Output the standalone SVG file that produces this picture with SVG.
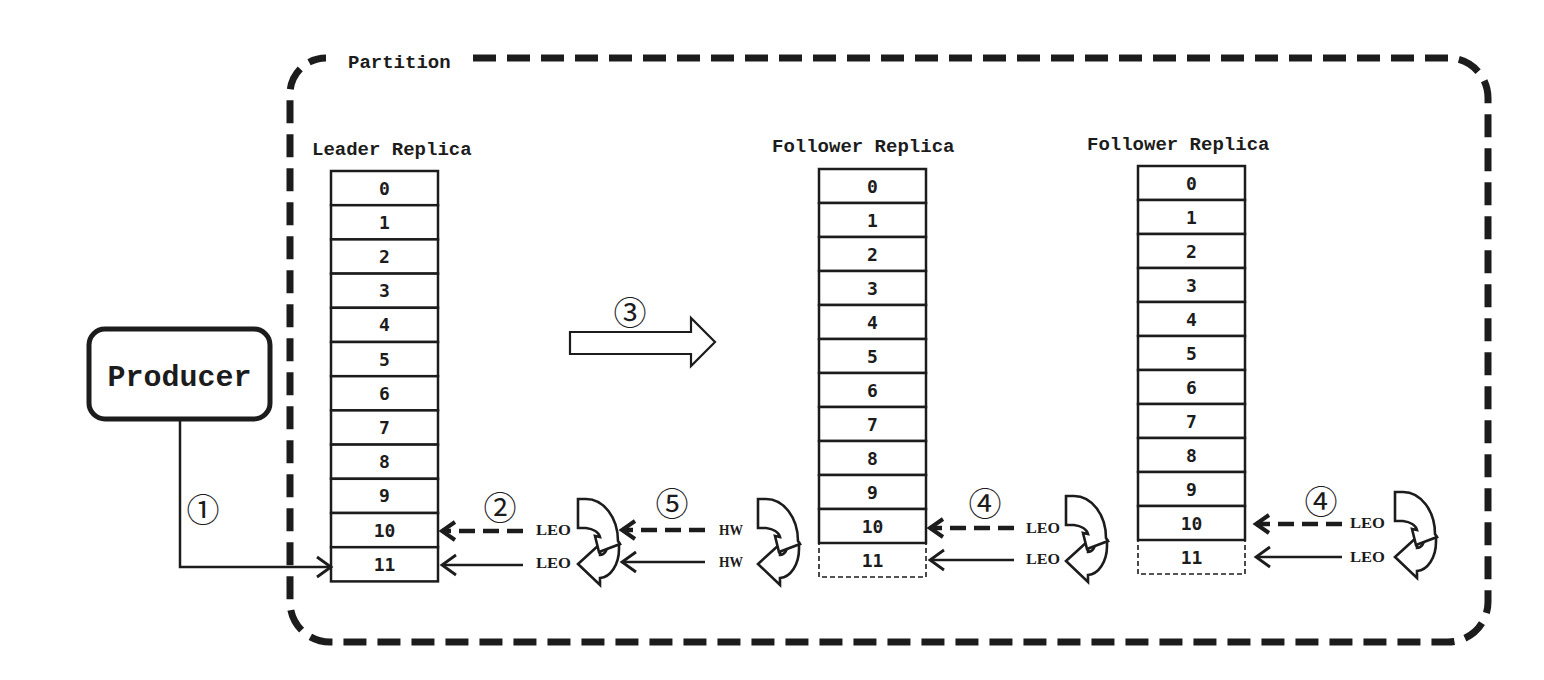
<svg xmlns="http://www.w3.org/2000/svg" xmlns:xlink="http://www.w3.org/1999/xlink" width="1544" height="680" viewBox="0 0 1544 680">
<style>
.cell{fill:#fff;stroke:#1c1c1c;stroke-width:2.5}
.cellD{fill:#fff;stroke:#1c1c1c;stroke-width:1.6;stroke-dasharray:5 3}
.num{font-family:"DejaVu Sans Mono",monospace;font-weight:bold;font-size:18px;text-anchor:middle;fill:#1c1c1c}
.lbl{font-family:"Liberation Mono","Courier New",monospace;font-weight:bold;font-size:19px;fill:#1c1c1c}
.tag{font-family:"Liberation Serif","Times New Roman",serif;font-weight:bold;font-size:15px;fill:#1c1c1c}
.circ{font-family:"Noto Sans CJK SC","DejaVu Sans",sans-serif;font-size:33px;text-anchor:middle;fill:#1c1c1c}
.solid{fill:none;stroke:#1c1c1c;stroke-width:2.5}
.dash{fill:none;stroke:#1c1c1c;stroke-width:4.5;stroke-dasharray:16 8}
.icon path{fill:#fff;stroke:#1c1c1c;stroke-width:2.6;stroke-linejoin:miter}
</style>
<defs>
<marker id="arrS" markerUnits="userSpaceOnUse" viewBox="-18 -12 22 24" markerWidth="22" markerHeight="24" refX="0" refY="0" orient="auto">
<path d="M-14,-10 L0,0 L-14,10" fill="none" stroke="#1c1c1c" stroke-width="2.8"/>
</marker>
<marker id="arrD" markerUnits="userSpaceOnUse" viewBox="-18 -12 22 24" markerWidth="22" markerHeight="24" refX="0" refY="0" orient="auto">
<path d="M-13,-9 L0,0 L-13,9" fill="none" stroke="#1c1c1c" stroke-width="4"/>
</marker>
<g id="cyc" class="icon">
<path d="M22,56 L22,45 L0,65 L22,86 L22,79 A20,29 0 0 0 41,50 L41,44 L30,44 A8,12 0 0 1 22,56 Z"/>
<path d="M0,0 L8,0 A32,42 0 0 1 40,42 L42,45 L21,53 L17,37 L22,38 A18,11 0 0 0 8,29 L0,29 Z"/>
</g>
</defs>
<rect width="1544" height="680" fill="#fff"/>

<g id="partition">
<path d="M473,58 H1448 A40,40 0 0 1 1488,98 V602 A40,40 0 0 1 1448,642 H330 A40,40 0 0 1 290,602 V94 A36,36 0 0 1 326,58" fill="none" stroke="#1c1c1c" stroke-width="7" stroke-dasharray="23 11"/>
<text class="lbl" x="348" y="68">Partition</text>
</g>

<g id="producer">
<rect x="89" y="329" width="181" height="90" rx="16" fill="#fff" stroke="#1c1c1c" stroke-width="5"/>
<text class="lbl" x="179.5" y="386" style="font-size:30px" text-anchor="middle">Producer</text>
</g>

<g id="leader-replica">
<text class="lbl" x="312" y="155">Leader Replica</text>
<g transform="translate(331,171)">
<rect class="cell" x="0" y="0" width="107" height="34.2"/><text class="num" x="53.5" y="23.6">0</text>
<rect class="cell" x="0" y="34.2" width="107" height="34.2"/><text class="num" x="53.5" y="57.8">1</text>
<rect class="cell" x="0" y="68.4" width="107" height="34.2"/><text class="num" x="53.5" y="92">2</text>
<rect class="cell" x="0" y="102.6" width="107" height="34.2"/><text class="num" x="53.5" y="126.2">3</text>
<rect class="cell" x="0" y="136.8" width="107" height="34.2"/><text class="num" x="53.5" y="160.4">4</text>
<rect class="cell" x="0" y="171" width="107" height="34.2"/><text class="num" x="53.5" y="194.6">5</text>
<rect class="cell" x="0" y="205.2" width="107" height="34.2"/><text class="num" x="53.5" y="228.8">6</text>
<rect class="cell" x="0" y="239.4" width="107" height="34.2"/><text class="num" x="53.5" y="263">7</text>
<rect class="cell" x="0" y="273.6" width="107" height="34.2"/><text class="num" x="53.5" y="297.2">8</text>
<rect class="cell" x="0" y="307.8" width="107" height="34.2"/><text class="num" x="53.5" y="331.4">9</text>
<rect class="cell" x="0" y="342" width="107" height="34.2"/><text class="num" x="53.5" y="365.6">10</text>
<rect class="cell" x="0" y="376.2" width="107" height="34.2"/><text class="num" x="53.5" y="399.8">11</text>
</g>
</g>

<g id="follower-replica-1">
<text class="lbl" x="772" y="152">Follower Replica</text>
<g transform="translate(819,169)">
<rect class="cell" x="0" y="0" width="107" height="34"/><text class="num" x="53.5" y="23.5">0</text>
<rect class="cell" x="0" y="34" width="107" height="34"/><text class="num" x="53.5" y="57.5">1</text>
<rect class="cell" x="0" y="68" width="107" height="34"/><text class="num" x="53.5" y="91.5">2</text>
<rect class="cell" x="0" y="102" width="107" height="34"/><text class="num" x="53.5" y="125.5">3</text>
<rect class="cell" x="0" y="136" width="107" height="34"/><text class="num" x="53.5" y="159.5">4</text>
<rect class="cell" x="0" y="170" width="107" height="34"/><text class="num" x="53.5" y="193.5">5</text>
<rect class="cell" x="0" y="204" width="107" height="34"/><text class="num" x="53.5" y="227.5">6</text>
<rect class="cell" x="0" y="238" width="107" height="34"/><text class="num" x="53.5" y="261.5">7</text>
<rect class="cell" x="0" y="272" width="107" height="34"/><text class="num" x="53.5" y="295.5">8</text>
<rect class="cell" x="0" y="306" width="107" height="34"/><text class="num" x="53.5" y="329.5">9</text>
<rect class="cellD" x="0" y="374" width="107" height="34"/><text class="num" x="53.5" y="397.5">11</text>
<rect class="cell" x="0" y="340" width="107" height="34"/><text class="num" x="53.5" y="363.5">10</text>
</g>
</g>

<g id="follower-replica-2">
<text class="lbl" x="1087" y="150">Follower Replica</text>
<g transform="translate(1138,166)">
<rect class="cell" x="0" y="0" width="107" height="34"/><text class="num" x="53.5" y="23.5">0</text>
<rect class="cell" x="0" y="34" width="107" height="34"/><text class="num" x="53.5" y="57.5">1</text>
<rect class="cell" x="0" y="68" width="107" height="34"/><text class="num" x="53.5" y="91.5">2</text>
<rect class="cell" x="0" y="102" width="107" height="34"/><text class="num" x="53.5" y="125.5">3</text>
<rect class="cell" x="0" y="136" width="107" height="34"/><text class="num" x="53.5" y="159.5">4</text>
<rect class="cell" x="0" y="170" width="107" height="34"/><text class="num" x="53.5" y="193.5">5</text>
<rect class="cell" x="0" y="204" width="107" height="34"/><text class="num" x="53.5" y="227.5">6</text>
<rect class="cell" x="0" y="238" width="107" height="34"/><text class="num" x="53.5" y="261.5">7</text>
<rect class="cell" x="0" y="272" width="107" height="34"/><text class="num" x="53.5" y="295.5">8</text>
<rect class="cell" x="0" y="306" width="107" height="34"/><text class="num" x="53.5" y="329.5">9</text>
<rect class="cellD" x="0" y="374" width="107" height="34"/><text class="num" x="53.5" y="397.5">11</text>
<rect class="cell" x="0" y="340" width="107" height="34"/><text class="num" x="53.5" y="363.5">10</text>
</g>
</g>

<g id="cycle-icons">
<use xlink:href="#cyc" href="#cyc" x="578" y="499"/>
<use xlink:href="#cyc" href="#cyc" x="758" y="499"/>
<use xlink:href="#cyc" href="#cyc" x="1066" y="496"/>
<use xlink:href="#cyc" href="#cyc" x="1395" y="492"/>
</g>

<g id="connectors">
<path class="solid" d="M180,419 V567 H331" marker-end="url(#arrS)"/>
<path d="M570,332 H691 V318 L715,342 L691,366 V354 H570 Z" fill="#fff" stroke="#1c1c1c" stroke-width="2.2"/>
<path class="dash" d="M523,531 H442" marker-end="url(#arrD)"/>
<path class="solid" d="M523,565 H442" marker-end="url(#arrS)"/>
<path class="dash" d="M705,530 H622" marker-end="url(#arrD)"/>
<path class="solid" d="M705,562 H622" marker-end="url(#arrS)"/>
<path class="dash" d="M1014,528 H930" marker-end="url(#arrD)"/>
<path class="solid" d="M1014,560 H930" marker-end="url(#arrS)"/>
<path class="dash" d="M1342,524 H1256" marker-end="url(#arrD)"/>
<path class="solid" d="M1342,557 H1256" marker-end="url(#arrS)"/>
</g>

<g id="labels">
<text class="tag" x="536" y="535" textLength="35" lengthAdjust="spacingAndGlyphs">LEO</text>
<text class="tag" x="536" y="568" textLength="35" lengthAdjust="spacingAndGlyphs">LEO</text>
<text class="tag" x="719" y="535" textLength="24" lengthAdjust="spacingAndGlyphs">HW</text>
<text class="tag" x="719" y="567" textLength="24" lengthAdjust="spacingAndGlyphs">HW</text>
<text class="tag" x="1026" y="533" textLength="34" lengthAdjust="spacingAndGlyphs">LEO</text>
<text class="tag" x="1026" y="564" textLength="34" lengthAdjust="spacingAndGlyphs">LEO</text>
<text class="tag" x="1350" y="528" textLength="35" lengthAdjust="spacingAndGlyphs">LEO</text>
<text class="tag" x="1350" y="562" textLength="35" lengthAdjust="spacingAndGlyphs">LEO</text>
<text class="circ" x="203" y="508" dominant-baseline="central">①</text>
<text class="circ" x="500" y="506" dominant-baseline="central">②</text>
<text class="circ" x="630" y="311" dominant-baseline="central">③</text>
<text class="circ" x="985" y="502" dominant-baseline="central">④</text>
<text class="circ" x="672" y="502" dominant-baseline="central">⑤</text>
<text class="circ" x="1321" y="500" dominant-baseline="central">④</text>
</g>
</svg>
